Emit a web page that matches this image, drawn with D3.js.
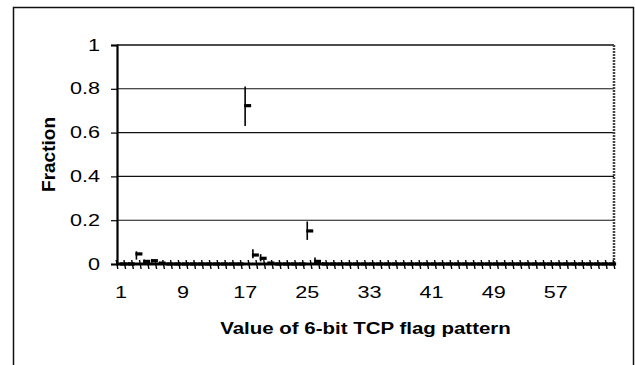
<!DOCTYPE html>
<html>
<head>
<meta charset="utf-8">
<script src="https://cdn.jsdelivr.net/npm/d3@7"></script>
<style>
  body { margin: 0; background: #fff; }
  svg { display: block; font-family: Arial, "Liberation Sans", sans-serif; }
</style>
</head>
<body>
<svg id="chart" width="635" height="365"></svg>
<script>
// flag pattern values 1..64
const categories = d3.range(1, 65);
const labelCats = [1, 9, 17, 25, 33, 41, 49, 57];
const yTicks = [0, 0.2, 0.4, 0.6, 0.8, 1];

// average fraction per flag pattern
const meanVals = [
  0, 0, 0.046, 0.012, 0.015, 0.004, 0, 0,
  0, 0, 0, 0, 0, 0, 0, 0,
  0.723, 0.041, 0.026, 0.004, 0, 0, 0, 0,
  0.151, 0.012, 0, 0, 0, 0, 0, 0,
  0, 0, 0, 0, 0, 0, 0, 0,
  0, 0, 0, 0, 0, 0, 0, 0,
  0, 0, 0, 0, 0, 0, 0, 0,
  0, 0, 0, 0, 0, 0, 0, 0
];
const lowVals = [
  0, 0, 0.02, 0.004, 0.006, 0, 0, 0,
  0, 0, 0, 0, 0, 0, 0, 0,
  0.63, 0.026, 0.012, 0, 0, 0, 0, 0,
  0.11, 0.005, 0, 0, 0, 0, 0, 0,
  0, 0, 0, 0, 0, 0, 0, 0,
  0, 0, 0, 0, 0, 0, 0, 0,
  0, 0, 0, 0, 0, 0, 0, 0,
  0, 0, 0, 0, 0, 0, 0, 0
];
const highVals = [
  0, 0.008, 0.058, 0.02, 0.022, 0.01, 0, 0,
  0, 0, 0, 0, 0, 0, 0, 0,
  0.81, 0.067, 0.045, 0.01, 0, 0, 0, 0,
  0.194, 0.03, 0.008, 0, 0, 0, 0, 0,
  0, 0, 0, 0, 0, 0, 0, 0,
  0, 0, 0, 0, 0, 0, 0, 0,
  0, 0, 0, 0, 0, 0, 0, 0,
  0, 0, 0, 0, 0, 0, 0, 0
];

const svg = d3.select('#chart');
const plotL = 117, plotR = 614, plotT = 45, plotB = 264;
const stretch = 1.35; // the scanned text is wide

let x = d3.scaleBand().domain(categories).range([plotL, plotR]);
let xEdge = d3.scaleLinear().domain([0, categories.length]).range([plotL, plotR]);
let y = d3.scaleLinear().domain([0, 1]).range([plotB, plotT]);

let data = categories.map((c, i) => ({ cat: c, mean: meanVals[i], low: lowVals[i], high: highVals[i] }));

// outer frame
svg.append('rect')
  .attr('x', 13.5).attr('y', 7.5)
  .attr('width', 620).attr('height', 380)
  .attr('fill', 'none').attr('stroke', '#111').attr('stroke-width', 1.5);

// gridlines
svg.append('g').selectAll('line')
  .data(yTicks.filter(d => d > 0 && d < 1)).enter()
  .append('line')
  .attr('x1', plotL).attr('x2', plotR)
  .attr('y1', d => y(d)).attr('y2', d => y(d))
  .attr('stroke', '#111').attr('stroke-width', 1.1);

// plot area border (top + right)
svg.append('line')
  .attr('x1', plotL).attr('x2', plotR)
  .attr('y1', y(1)).attr('y2', y(1))
  .attr('stroke', '#111').attr('stroke-width', 1.6);
svg.append('line')
  .attr('x1', plotR).attr('x2', plotR)
  .attr('y1', y(1)).attr('y2', y(0))
  .attr('stroke', '#444').attr('stroke-width', 2.5)
  .attr('stroke-dasharray', '2,1');

// y axis
let yAxis = svg.append('g')
  .attr('transform', 'translate(' + plotL + ',0)')
  .call(d3.axisLeft(y).tickValues(yTicks).tickSize(6).tickPadding(0).tickFormat(d => d));
yAxis.select('.domain').attr('stroke', '#000').attr('stroke-width', 2.2);
yAxis.selectAll('.tick line').attr('stroke', '#000').attr('stroke-width', 1.2);
yAxis.selectAll('.tick text')
  .attr('x', -17 / stretch)
  .attr('transform', 'scale(' + stretch + ',1)')
  .style('font-size', '16px')
  .attr('fill', '#000');

// x axis line and cross ticks at category edges
svg.append('line')
  .attr('x1', plotL).attr('x2', plotR)
  .attr('y1', y(0)).attr('y2', y(0))
  .attr('stroke', '#000').attr('stroke-width', 3.2);
svg.append('g').selectAll('line')
  .data(d3.range(0, categories.length + 1)).enter()
  .append('line')
  .attr('x1', d => xEdge(d) - 0.8).attr('x2', d => xEdge(d) + 0.8)
  .attr('y1', y(0) - 4).attr('y2', y(0) + 5)
  .attr('stroke', '#000').attr('stroke-width', 1.4);

// x labels
let xAxis = svg.append('g')
  .attr('transform', 'translate(0,' + plotB + ')')
  .call(d3.axisBottom(x).tickValues(labelCats).tickSize(0).tickPadding(23));
xAxis.select('.domain').remove();
xAxis.selectAll('.tick text')
  .attr('transform', 'scale(' + stretch + ',1)')
  .style('font-size', '16px')
  .attr('fill', '#000');

// high-low lines with mean tick
let marks = svg.append('g');
marks.selectAll('.hl')
  .data(data.filter(d => d.high > d.low)).enter()
  .append('line')
  .attr('class', 'hl')
  .attr('x1', d => x(d.cat) + x.bandwidth() / 2)
  .attr('x2', d => x(d.cat) + x.bandwidth() / 2)
  .attr('y1', d => y(d.low)).attr('y2', d => y(d.high))
  .attr('stroke', '#000').attr('stroke-width', 1.6);
marks.selectAll('.mean')
  .data(data).enter()
  .append('rect')
  .attr('class', 'mean')
  .attr('x', d => x(d.cat) + x.bandwidth() / 2 - 1)
  .attr('y', d => y(d.mean) - 1.6)
  .attr('width', 7).attr('height', 3.2)
  .attr('fill', '#000');

// axis titles
svg.append('text')
  .attr('transform', 'translate(' + ((plotL + plotR) / 2) + ',334) scale(1.28,1)')
  .attr('text-anchor', 'middle')
  .style('font-size', '16px').style('font-weight', 'bold')
  .text('Value of 6-bit TCP flag pattern');

svg.append('text')
  .attr('transform', 'translate(55,' + ((plotT + plotB) / 2) + ') rotate(-90)')
  .attr('text-anchor', 'middle')
  .style('font-size', '19px').style('font-weight', 'bold')
  .text('Fraction');
</script>
</body>
</html>
